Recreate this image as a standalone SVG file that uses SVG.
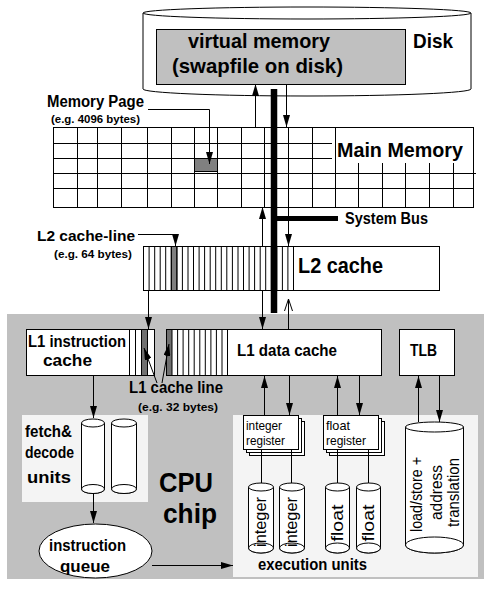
<svg xmlns="http://www.w3.org/2000/svg" width="484" height="589" viewBox="0 0 484 589">
<style>
.t{font-family:"Liberation Sans",Arial,sans-serif;font-weight:bold;fill:#000}
.n{font-family:"Liberation Sans",Arial,sans-serif;font-weight:normal;fill:#000}
.ln{stroke:#000;stroke-width:1;fill:none}
.bx{stroke:#000;stroke-width:1;fill:#fff}
.ar{stroke:#000;stroke-width:1;fill:none;marker-end:url(#ah)}
</style>
<defs>
<marker id="ah" viewBox="0 0 12 7" refX="12" refY="3.5" markerWidth="12" markerHeight="7" markerUnits="userSpaceOnUse" orient="auto"><path d="M0,0 L12,3.5 L0,7 z" fill="#000"/></marker>
</defs>
<rect width="484" height="589" fill="#fff"/>

<g id="disk">
<path d="M143,13 L143,89 A164,7 0 0 0 471,89 L471,13" class="bx"/>
<ellipse cx="307" cy="13" rx="164" ry="6" class="bx"/>
<text class="t" x="413" y="48" font-size="21" textLength="40" lengthAdjust="spacingAndGlyphs">Disk</text>
</g>
<g id="virtual-memory">
<rect x="156.5" y="29.5" width="249" height="55" fill="#c0c0c0" stroke="#000"/>
<text class="t" x="188" y="48" font-size="21" textLength="142" lengthAdjust="spacingAndGlyphs">virtual memory</text>
<text class="t" x="172" y="73" font-size="21" textLength="171" lengthAdjust="spacingAndGlyphs">(swapfile on disk)</text>
</g>

<g id="main-memory">
<rect x="53.5" y="127.5" width="420" height="80" class="bx"/>
<path class="ln" d="M53,143.5H332M53,158.5H332M53,173.5H476M53,188.5H473
M77.5,127V207M97.5,127V207M121.5,127V207M147.5,127V207M171.5,127V207M194.5,127V207M217.5,127V207M241.5,127V207M264.5,127V207M288.5,127V207M312.5,127V207M335.5,127V207
M358.5,163V207M382.5,163V207M405.5,163V207M429.5,163V207M453.5,163V207"/>
<rect x="194.5" y="158.5" width="23" height="13" fill="#808080" stroke="#000"/>
<text class="t" x="337" y="157" font-size="21" textLength="126" lengthAdjust="spacingAndGlyphs">Main Memory</text>
</g>

<g id="memory-page-label">
<text class="t" x="47" y="107" font-size="16" textLength="97" lengthAdjust="spacingAndGlyphs">Memory Page</text>
<text class="t" x="51" y="123" font-size="11" textLength="89" lengthAdjust="spacingAndGlyphs">(e.g. 4096 bytes)</text>
</g>

<g id="l2-cache">
<rect x="143.5" y="246.5" width="296" height="44" class="bx"/>
<rect x="171.3" y="246.5" width="5.6" height="44" fill="#808080" stroke="#000"/>
<path class="ln" d="M149.1,246V290M154.7,246V290M160.2,246V290M165.7,246V290M171.3,246V290M176.9,246V290M182.4,246V290M188,246V290M193.5,246V290M199.1,246V290M204.6,246V290M210.2,246V290M215.7,246V290M221.3,246V290M226.8,246V290M232.4,246V290M238,246V290M243.5,246V290M249.1,246V290M254.6,246V290M260.2,246V290M265.7,246V290M271.3,246V290M276.8,246V290M282.4,246V290M287.9,246V290M293.5,246V290"/>
<text class="t" x="298" y="273" font-size="22" textLength="85" lengthAdjust="spacingAndGlyphs">L2 cache</text>
</g>

<g id="l2-line-label">
<text class="t" x="37" y="241" font-size="15" textLength="98" lengthAdjust="spacingAndGlyphs">L2 cache-line</text>
<text class="t" x="54" y="258" font-size="11" textLength="78" lengthAdjust="spacingAndGlyphs">(e.g. 64 bytes)</text>
</g>

<g id="cpu-chip">
<rect x="7" y="314" width="477" height="265" fill="#c0c0c0"/>
<text class="t" x="159" y="492" font-size="27" textLength="54" lengthAdjust="spacingAndGlyphs">CPU</text>
<text class="t" x="163" y="523" font-size="27" textLength="54" lengthAdjust="spacingAndGlyphs">chip</text>
</g>

<g id="l1-instruction-cache">
<rect x="26.5" y="329.5" width="128" height="46" class="bx"/>
<rect x="141.5" y="329.5" width="6" height="46" fill="#707070" stroke="#000"/>
<path class="ln" d="M129.5,329V376M135.5,329V376"/>
<text class="t" x="28" y="347" font-size="16" textLength="98" lengthAdjust="spacingAndGlyphs">L1 instruction</text>
<text class="t" x="43" y="366" font-size="16" textLength="49" lengthAdjust="spacingAndGlyphs">cache</text>
</g>

<g id="l1-data-cache">
<rect x="166.5" y="329.5" width="215" height="46" class="bx"/>
<rect x="166.5" y="329.5" width="5.5" height="46" fill="#707070" stroke="#000"/>
<path class="ln" d="M177.6,329V376M183.1,329V376M188.7,329V376M194.2,329V376M199.8,329V376M205.3,329V376M210.9,329V376M216.4,329V376M222,329V376M227.5,329V376"/>
<text class="t" x="237" y="356" font-size="17" textLength="100" lengthAdjust="spacingAndGlyphs">L1 data cache</text>
</g>

<g id="tlb">
<rect x="399.5" y="329.5" width="55" height="46" class="bx"/>
<text class="t" x="410" y="356" font-size="17" textLength="27" lengthAdjust="spacingAndGlyphs">TLB</text>
</g>

<g id="l1-line-label">
<text class="t" x="129" y="393" font-size="17" textLength="94" lengthAdjust="spacingAndGlyphs">L1 cache line</text>
<text class="t" x="138" y="411" font-size="11" textLength="80" lengthAdjust="spacingAndGlyphs">(e.g. 32 bytes)</text>
</g>

<g id="fetch-decode">
<rect x="22" y="415" width="126" height="87" fill="#f4f4f4"/>
<path class="bx" d="M81.5,423V489A11.5,4.5 0 0 0 104.5,489V423"/>
<ellipse cx="93" cy="423" rx="11.5" ry="4" class="bx"/>
<ellipse cx="93" cy="489" rx="11.5" ry="4.5" class="bx"/>
<path class="bx" d="M111.5,423V489A12.5,4.5 0 0 0 136.5,489V423"/>
<ellipse cx="124" cy="423" rx="12.5" ry="4" class="bx"/>
<ellipse cx="124" cy="489" rx="12.5" ry="4.5" class="bx"/>
<text class="t" x="25" y="437" font-size="17" textLength="47" lengthAdjust="spacingAndGlyphs">fetch&amp;</text>
<text class="t" x="25" y="458" font-size="17" textLength="49" lengthAdjust="spacingAndGlyphs">decode</text>
<text class="t" x="27" y="483" font-size="17" textLength="44" lengthAdjust="spacingAndGlyphs">units</text>
</g>

<g id="instruction-queue">
<ellipse cx="95.5" cy="551" rx="56.5" ry="27" class="bx"/>
<text class="t" x="49" y="551" font-size="16" textLength="77" lengthAdjust="spacingAndGlyphs">instruction</text>
<text class="t" x="60" y="572" font-size="16" textLength="50" lengthAdjust="spacingAndGlyphs">queue</text>
</g>

<g id="execution-units">
<rect x="233" y="415" width="245" height="162" fill="#f4f4f4"/>
<text class="t" x="258" y="570" font-size="17" textLength="109" lengthAdjust="spacingAndGlyphs">execution units</text>
</g>

<g id="integer-register">
<rect x="249.5" y="421.5" width="55" height="34" class="bx"/>
<rect x="246.5" y="418.5" width="55" height="34" class="bx"/>
<rect x="243.5" y="415.5" width="55" height="34" class="bx"/>
<text class="n" x="246" y="430" font-size="13" textLength="36" lengthAdjust="spacingAndGlyphs">integer</text>
<text class="n" x="246" y="445" font-size="13" textLength="39" lengthAdjust="spacingAndGlyphs">register</text>
</g>

<g id="float-register">
<rect x="329.5" y="421.5" width="55" height="34" class="bx"/>
<rect x="326.5" y="418.5" width="55" height="34" class="bx"/>
<rect x="323.5" y="415.5" width="55" height="34" class="bx"/>
<text class="n" x="326" y="430" font-size="13" textLength="24" lengthAdjust="spacingAndGlyphs">float</text>
<text class="n" x="326" y="445" font-size="13" textLength="40" lengthAdjust="spacingAndGlyphs">register</text>
</g>

<g id="integer-unit-1">
<path class="bx" d="M248.5,487V548A12.5,5 0 0 0 273.5,548V487"/>
<ellipse cx="261" cy="487" rx="12.5" ry="4" class="bx"/>
<ellipse cx="261" cy="548" rx="12.5" ry="5" class="bx"/>
<text class="n" transform="translate(266,522) rotate(-90)" text-anchor="middle" font-size="17" textLength="50" lengthAdjust="spacingAndGlyphs">integer</text>
</g>
<g id="integer-unit-2">
<path class="bx" d="M279.5,487V548A12.5,5 0 0 0 304.5,548V487"/>
<ellipse cx="292" cy="487" rx="12.5" ry="4" class="bx"/>
<ellipse cx="292" cy="548" rx="12.5" ry="5" class="bx"/>
<text class="n" transform="translate(297,522) rotate(-90)" text-anchor="middle" font-size="17" textLength="50" lengthAdjust="spacingAndGlyphs">integer</text>
</g>
<g id="float-unit-1">
<path class="bx" d="M325.5,487V548A12,5 0 0 0 349.5,548V487"/>
<ellipse cx="337.5" cy="487" rx="12" ry="4" class="bx"/>
<ellipse cx="337.5" cy="548" rx="12" ry="5" class="bx"/>
<text class="n" transform="translate(343,523) rotate(-90)" text-anchor="middle" font-size="17" textLength="37" lengthAdjust="spacingAndGlyphs">float</text>
</g>
<g id="float-unit-2">
<path class="bx" d="M356.5,487V548A12,5 0 0 0 380.5,548V487"/>
<ellipse cx="368.5" cy="487" rx="12" ry="4" class="bx"/>
<ellipse cx="368.5" cy="548" rx="12" ry="5" class="bx"/>
<text class="n" transform="translate(374,523) rotate(-90)" text-anchor="middle" font-size="17" textLength="37" lengthAdjust="spacingAndGlyphs">float</text>
</g>

<g id="load-store">
<path class="bx" d="M405.5,427V545A29,8 0 0 0 463.5,545V427"/>
<ellipse cx="434.5" cy="427" rx="29" ry="5" class="bx"/>
<ellipse cx="434.5" cy="545" rx="29" ry="8" class="bx"/>
<text class="n" transform="translate(422,494.5) rotate(-90)" text-anchor="middle" font-size="17" textLength="75" lengthAdjust="spacingAndGlyphs">load/store +</text>
<text class="n" transform="translate(442,492.5) rotate(-90)" text-anchor="middle" font-size="17" textLength="55" lengthAdjust="spacingAndGlyphs">address</text>
<text class="n" transform="translate(459,492.5) rotate(-90)" text-anchor="middle" font-size="17" textLength="69" lengthAdjust="spacingAndGlyphs">translation</text>
</g>

<g id="connectors">
<line x1="255.5" y1="127" x2="255.5" y2="84" class="ar"/>
<line x1="286.5" y1="85" x2="286.5" y2="127" class="ar"/>
<line x1="262.5" y1="246" x2="262.5" y2="207" class="ar"/>
<line x1="288.5" y1="207" x2="288.5" y2="246" class="ar"/>
<line x1="262.5" y1="290" x2="262.5" y2="329" class="ar"/>
<path class="ln" d="M288.5,329V299M284.5,311L288.5,299L292.5,311"/>
<line x1="148.5" y1="290" x2="148.5" y2="329" class="ar"/>
<polyline points="148,109.5 209.5,109.5 209.5,164" class="ar"/>
<polyline points="138,234.5 175.5,234.5 175.5,246" class="ar"/>
<line x1="157" y1="383" x2="144" y2="348" class="ar"/>
<line x1="162" y1="383" x2="169" y2="344" class="ar"/>
<line x1="93.5" y1="376" x2="93.5" y2="418" class="ar"/>
<line x1="93.5" y1="493" x2="93.5" y2="523" class="ar"/>
<line x1="152" y1="565.5" x2="233" y2="565.5" class="ar"/>
<line x1="264.5" y1="415" x2="264.5" y2="376" class="ar"/>
<line x1="289.5" y1="376" x2="289.5" y2="415" class="ar"/>
<line x1="337.5" y1="415" x2="337.5" y2="376" class="ar"/>
<line x1="359.5" y1="376" x2="359.5" y2="415" class="ar"/>
<line x1="418.5" y1="422" x2="418.5" y2="376" class="ar"/>
<line x1="439.5" y1="376" x2="439.5" y2="422" class="ar"/>
<path class="ln" d="M261.5,449V483M291.5,449V483M337.5,449V483M368.5,449V483"/>
<line x1="274" y1="89" x2="274" y2="313" stroke="#000" stroke-width="6.5"/>
<line x1="274" y1="218.5" x2="338" y2="218.5" stroke="#000" stroke-width="5"/>
<text class="t" x="345" y="224" font-size="16" textLength="83" lengthAdjust="spacingAndGlyphs">System Bus</text>
</g>
</svg>
